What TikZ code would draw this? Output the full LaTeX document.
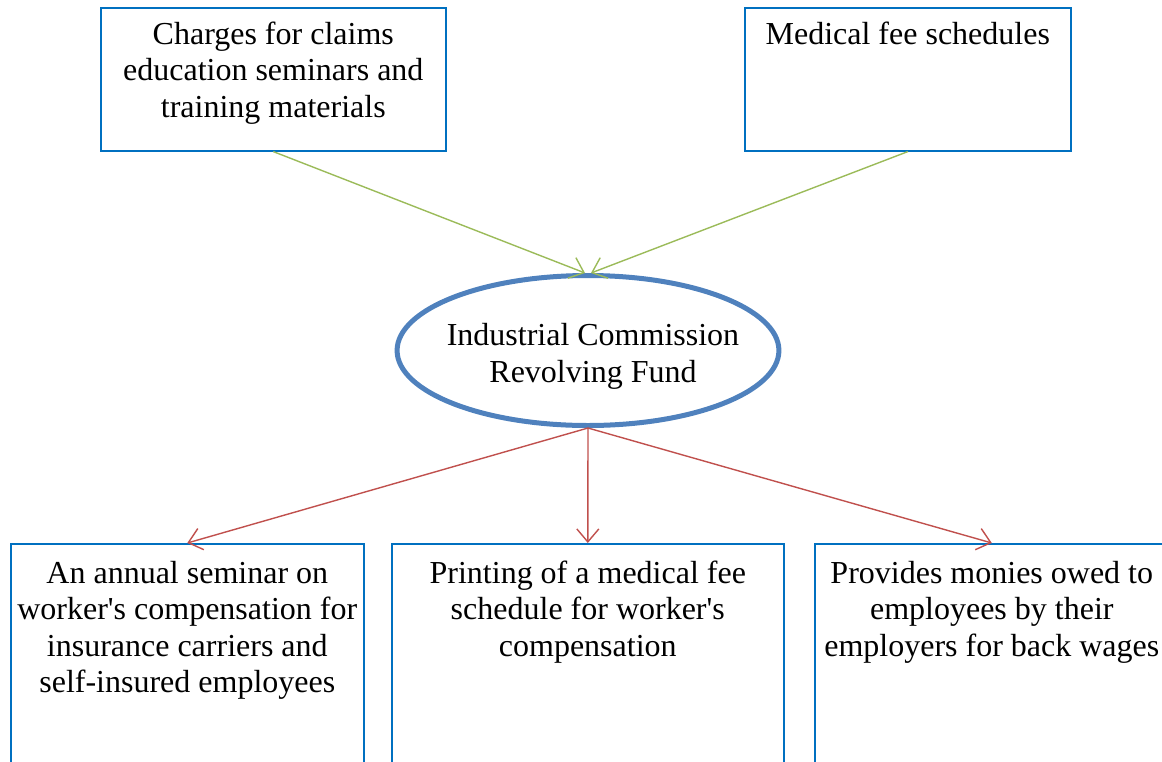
\documentclass[tikz,border=0pt]{standalone}
\usepackage{fontspec}
\setmainfont{Liberation Serif}
\usetikzlibrary{shapes.geometric,arrows.meta}
\definecolor{boxblue}{HTML}{0070C0}
\definecolor{fundblue}{HTML}{4F81BD}
\definecolor{feedgreen}{HTML}{9BBB59}
\definecolor{payred}{HTML}{C0504D}
\tikzset{
  fundbox/.style={draw=boxblue, line width=1.6pt, inner sep=0pt, anchor=north west},
  feed/.style={draw=feedgreen, line width=1.4pt, -{Straight Barb[length=13pt,width=22pt,line width=1.4pt]}},
  pay/.style={draw=payred, line width=1.4pt, -{Straight Barb[length=13pt,width=22pt,line width=1.4pt]}}
}
\begin{document}
\begin{tikzpicture}[x=1pt, y=-1pt, font=\fontsize{32}{36.5}\selectfont]
\useasboundingbox (0,0) rectangle (1162,761);
\clip (0,0) rectangle (1162,761);
\node[fundbox] (charges) at (100,7) {\parbox[t][143pt][t]{345pt}{\centering\vspace*{14pt}Charges for claims\\ education seminars and\\ training materials}};
\node[fundbox] (schedules) at (744,7) {\parbox[t][143pt][t]{326pt}{\centering\vspace*{14pt}Medical fee schedules}};
\node[shape=ellipse, draw=fundblue, line width=5pt, inner sep=0pt, minimum width=381pt, minimum height=150pt, align=center] (fund) at (588,350.5) {\rule{0pt}{34pt}\makebox[270pt]{\hspace{10pt}Industrial Commission}\\ \hspace{10pt}Revolving Fund};
\node[fundbox] (seminar) at (10,543) {\parbox[t][240pt][t]{353pt}{\centering\vspace*{17pt}An annual seminar on\\ worker\textquotesingle s compensation for\\ insurance carriers and\\ self-insured employees}};
\node[fundbox] (printing) at (391,543) {\parbox[t][240pt][t]{392pt}{\centering\vspace*{17pt}Printing of a medical fee\\ schedule for worker\textquotesingle s\\ compensation}};
\node[fundbox] (monies) at (814,543) {\parbox[t][240pt][t]{354pt}{\centering\vspace*{17pt}Provides monies owed to\\ employees by their\\ employers for back wages}};
\draw[feed] (charges.south) -- ([xshift=-3pt]fund.north);
\draw[feed] (schedules.south) -- ([xshift=3pt]fund.north);
\draw[pay] (fund.south) -- (seminar.north);
\draw[pay] (fund.south) -- (printing.north);
\draw[pay] (fund.south) -- (monies.north);
\end{tikzpicture}
\end{document}
